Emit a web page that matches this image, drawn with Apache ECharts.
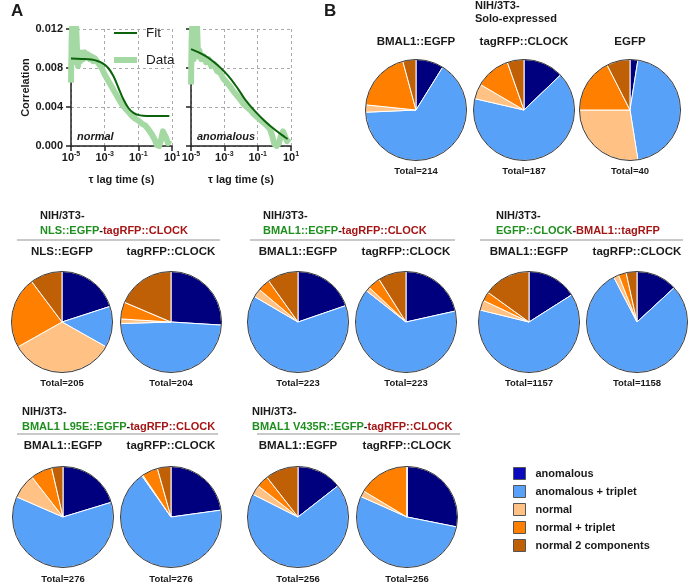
<!DOCTYPE html>
<html><head><meta charset="utf-8">
<script src="https://cdn.jsdelivr.net/npm/echarts@6/dist/echarts.min.js"></script>
<style>html,body{margin:0;padding:0;background:#fff}#c{width:688px;height:582px}</style>
</head><body><div id="c"></div>
<script>
// ---------- Panel A data ----------
const xTickExponents = [-5, -3, -1, 1];           // tick labels 10^e
const yTickLabels = ['0.000', '0.004', '0.008', '0.012'];

const normalFitExp = [-5, -4.38, -3.78, -3.39, -3.09, -2.79, -2.49, -2.19, -1.89, -1.59, -1.29, -0.89, -0.40, 0.20, 0.84];
const normalFitVal = [0.00897, 0.00893, 0.00886, 0.00869, 0.00845, 0.00800, 0.00720, 0.00600, 0.00480, 0.00390, 0.00340, 0.00314, 0.00308, 0.00307, 0.00307];
const normalDataExp = [-5.0, -4.96, -4.92, -4.86, -4.82, -4.76, -4.70, -4.64, -4.58, -4.52, -4.44, -4.38, -4.28, -4.18, -4.08, -3.98, -3.88, -3.78, -3.68, -3.58, -3.43, -3.29, -3.15, -2.99, -2.79, -2.59, -2.39, -2.19, -1.99, -1.79, -1.59, -1.39, -1.19, -0.99, -0.79, -0.59, -0.40, -0.20, -0.04, 0.10, 0.24, 0.36, 0.46, 0.56, 0.66, 0.76, 0.86];
const normalDataVal = [0.0065, 0.0110, 0.0125, 0.0086, 0.0125, 0.0092, 0.0125, 0.0098, 0.0082, 0.0094, 0.0087, 0.0096, 0.0089, 0.0096, 0.0091, 0.0094, 0.0089, 0.0092, 0.0087, 0.0090, 0.0086, 0.0083, 0.0079, 0.0073, 0.0067, 0.0061, 0.0055, 0.0049, 0.0043, 0.0039, 0.0035, 0.0031, 0.0028, 0.0026, 0.0023, 0.0021, 0.0017, 0.0012, 0.0007, 0.0001, 0.0000, 0.0007, 0.0015, 0.0013, 0.0008, 0.0003, 0.0006];

const anomFitExp = [-5, -4.14, -3.35, -2.75, -2.15, -1.75, -1.15, -0.55, 0.04, 0.64, 0.80];
const anomFitVal = [0.00993, 0.00924, 0.00821, 0.00717, 0.00579, 0.00476, 0.00355, 0.00252, 0.00166, 0.00090, 0.00072];
const anomDataExp = [-5.0, -4.96, -4.92, -4.84, -4.78, -4.72, -4.64, -4.58, -4.50, -4.38, -4.24, -4.10, -3.94, -3.78, -3.62, -3.44, -3.25, -3.05, -2.85, -2.65, -2.45, -2.25, -2.05, -1.85, -1.65, -1.45, -1.25, -1.05, -0.85, -0.65, -0.45, -0.25, -0.12, 0.00, 0.14, 0.28, 0.40, 0.52, 0.64, 0.76, 0.88];
const anomDataVal = [0.0063, 0.0110, 0.0125, 0.0089, 0.0125, 0.0096, 0.0125, 0.0092, 0.0098, 0.0089, 0.0092, 0.0086, 0.0089, 0.0082, 0.0084, 0.0077, 0.0075, 0.0069, 0.0065, 0.0061, 0.0056, 0.0052, 0.0048, 0.0043, 0.0040, 0.0037, 0.0033, 0.0030, 0.0027, 0.0024, 0.0021, 0.0017, 0.0010, 0.0002, 0.0000, 0.0003, 0.0011, 0.0015, 0.0010, 0.0005, 0.0008];

// ---------- Panel B data (counts per category) ----------
const categories = ['anomalous', 'anomalous + triplet', 'normal', 'normal + triplet', 'normal 2 components'];
const soloBMAL1EGFP = [19, 140, 5, 41, 9];
const soloTagRFPCLOCK = [24, 123, 9, 21, 10];
const soloEGFP = [1, 18, 11, 7, 3];
const nlsNLSEGFP = [41, 27, 69, 47, 21];
const nlsTagRFPCLOCK = [53, 99, 3, 11, 38];
const coBMAL1EGFP = [44, 142, 6, 9, 22];
const coTagRFPCLOCK = [48, 143, 3, 9, 20];
const clkBMAL1EGFP = [185, 727, 37, 34, 174];
const clkTagRFPCLOCK = [152, 918, 19, 29, 40];
const l95eBMAL1EGFP = [56, 169, 22, 19, 10];
const l95eTagRFPCLOCK = [63, 186, 1, 14, 12];
const v435rBMAL1EGFP = [37, 174, 8, 10, 27];
const v435rTagRFPCLOCK = [72, 137, 5, 42, 0];

// ---------- styles / layout ----------
const FONT = '"Liberation Sans", Arial, sans-serif';
const sliceColors = ['#00007f', '#58a1f9', '#ffc284', '#ff8000', '#bf6006'];
const legendColors = ['#0b0bbd', '#58a1f9', '#ffc284', '#ff8000', '#bf6006'];
const GREEN = '#1f8f1f', RED = '#a51515', INK = '#1a1a1a';
const R = 50.5;

const pieLayout = [
  { vals: soloBMAL1EGFP, c: [416, 110], title: 'BMAL1::EGFP', ty: 42, tot: 171 },
  { vals: soloTagRFPCLOCK, c: [524, 110], title: 'tagRFP::CLOCK', ty: 42, tot: 171 },
  { vals: soloEGFP, c: [630, 110], title: 'EGFP', ty: 42, tot: 171 },
  { vals: nlsNLSEGFP, c: [62, 322], title: 'NLS::EGFP', ty: 252, tot: 383 },
  { vals: nlsTagRFPCLOCK, c: [171, 322], title: 'tagRFP::CLOCK', ty: 252, tot: 383 },
  { vals: coBMAL1EGFP, c: [298, 322], title: 'BMAL1::EGFP', ty: 252, tot: 383 },
  { vals: coTagRFPCLOCK, c: [406, 322], title: 'tagRFP::CLOCK', ty: 252, tot: 383 },
  { vals: clkBMAL1EGFP, c: [529, 322], title: 'BMAL1::EGFP', ty: 252, tot: 383 },
  { vals: clkTagRFPCLOCK, c: [637, 322], title: 'tagRFP::CLOCK', ty: 252, tot: 383 },
  { vals: l95eBMAL1EGFP, c: [63, 517], title: 'BMAL1::EGFP', ty: 446, tot: 579 },
  { vals: l95eTagRFPCLOCK, c: [171, 517], title: 'tagRFP::CLOCK', ty: 446, tot: 579 },
  { vals: v435rBMAL1EGFP, c: [298, 517], title: 'BMAL1::EGFP', ty: 446, tot: 579 },
  { vals: v435rTagRFPCLOCK, c: [407, 517], title: 'tagRFP::CLOCK', ty: 446, tot: 579 }
];

const headers = [
  { left: 40, top: 208, g: 'NLS::EGFP', r: 'tagRFP::CLOCK' },
  { left: 263, top: 208, g: 'BMAL1::EGFP', r: 'tagRFP::CLOCK' },
  { left: 496, top: 208, g: 'EGFP::CLOCK', r: 'BMAL1::tagRFP' },
  { left: 22, top: 404, g: 'BMAL1 L95E::EGFP', r: 'tagRFP::CLOCK' },
  { left: 252, top: 404, g: 'BMAL1 V435R::EGFP', r: 'tagRFP::CLOCK' }
];
const separators = [[17, 220, 240], [250, 455, 240], [480, 683, 240], [17, 218, 434], [257, 460, 434]];

// ---------- build ----------
const toPts = (xs, ys) => xs.map((e, i) => [(e - xTickExponents[0]) / (xTickExponents[1] - xTickExponents[0]), ys[i]]);

function xAxisCfg(gi) {
  return {
    gridIndex: gi, type: 'value', min: 0, max: 3, interval: 1,
    name: 'τ lag time (s)', nameLocation: 'middle', nameGap: 28,
    nameTextStyle: { fontFamily: FONT, fontSize: 11, fontWeight: 'bold', color: INK },
    axisLine: { show: true, onZero: false, lineStyle: { color: '#222', width: 1.5 } },
    axisTick: { show: true, length: 5, lineStyle: { color: '#222', width: 1.5 } },
    axisLabel: {
      margin: 5,
      formatter: (u) => '{b|10}{s|' + xTickExponents[Math.round(u)] + '}',
      rich: {
        b: { fontFamily: FONT, fontSize: 11, fontWeight: 'bold', color: INK, lineHeight: 14 },
        s: { fontFamily: FONT, fontSize: 7, fontWeight: 'bold', color: INK, verticalAlign: 'top', lineHeight: 8 }
      }
    },
    splitLine: { show: true, lineStyle: { color: '#aaaaaa', type: [3, 3], width: 1 } }
  };
}
function yAxisCfg(gi, labels) {
  return {
    gridIndex: gi, type: 'value', min: 0, max: 0.012, interval: 0.004,
    name: labels ? 'Correlation' : '', nameLocation: 'middle', nameGap: 40,
    nameTextStyle: { fontFamily: FONT, fontSize: 11, fontWeight: 'bold', color: INK },
    axisLine: { show: true, lineStyle: { color: '#222', width: 1.5 } },
    axisTick: { show: true, length: 5, lineStyle: { color: '#222', width: 1.5 } },
    axisLabel: {
      show: labels, margin: 8, fontFamily: FONT, fontSize: 11, fontWeight: 'bold', color: INK,
      formatter: (v, i) => yTickLabels[i]
    },
    splitLine: { show: true, lineStyle: { color: '#aaaaaa', type: [3, 3], width: 1 } }
  };
}

const series = [];
function lineSeries(gi, dataPts, fitPts) {
  series.push({
    name: 'Data', type: 'line', xAxisIndex: gi, yAxisIndex: gi, data: dataPts,
    symbol: 'none', silent: true, z: 2, clip: true,
    lineStyle: { color: '#a5d9a3', width: 6, join: 'round', cap: 'butt' },
    itemStyle: { color: '#a5d9a3' }
  });
  series.push({
    name: 'Fit', type: 'line', xAxisIndex: gi, yAxisIndex: gi, data: fitPts,
    symbol: 'none', silent: true, z: 3, smooth: 0.4, clip: true,
    lineStyle: { color: '#0c630c', width: 2 },
    itemStyle: { color: '#0c630c' }
  });
}
lineSeries(0, toPts(normalDataExp, normalDataVal), toPts(normalFitExp, normalFitVal));
lineSeries(1, toPts(anomDataExp, anomDataVal), toPts(anomFitExp, anomFitVal));

const graphics = [];
const txt = (x, y, text, size, align, extra) => graphics.push({
  type: 'text', silent: true, z: 10,
  style: Object.assign({ x, y, text, fill: INK, font: 'bold ' + size + 'px ' + FONT, textAlign: align, textVerticalAlign: 'middle', verticalAlign: 'middle' }, extra || {})
});

pieLayout.forEach((p, i) => {
  series.push({
    name: 'pie' + i, type: 'pie', center: p.c, radius: R, startAngle: 90, clockwise: true,
    silent: true, label: { show: false }, labelLine: { show: false }, emphasis: { disabled: true },
    itemStyle: { borderColor: '#ffffff', borderWidth: 1 },
    data: categories.map((n, k) => ({ name: n, value: p.vals[k], itemStyle: { color: sliceColors[k] } }))
  });
  series.push({
    name: 'outline' + i, type: 'pie', center: p.c, radius: R, silent: true,
    label: { show: false }, labelLine: { show: false }, emphasis: { disabled: true },
    data: [{ name: 'outline', value: 1, itemStyle: { color: 'rgba(0,0,0,0)', borderColor: '#3a3a3a', borderWidth: 1 } }]
  });
  txt(p.c[0], p.ty, p.title, 11.5, 'center');
  txt(p.c[0], p.tot, 'Total=' + p.vals.reduce((a, b) => a + b, 0), 9.5, 'center');
});

txt(11, 11, 'A', 17, 'left');
txt(324, 11, 'B', 17, 'left');
txt(475, 6, 'NIH/3T3-', 11, 'left');
txt(475, 19, 'Solo-expressed', 11, 'left');
txt(77, 137, 'normal', 11, 'left', { font: 'italic bold 11px ' + FONT });
txt(197, 137, 'anomalous', 11, 'left', { font: 'italic bold 11px ' + FONT });

separators.forEach(s => graphics.push({
  type: 'line', silent: true, shape: { x1: s[0], y1: s[2], x2: s[1], y2: s[2] },
  style: { stroke: '#c9c9c9', lineWidth: 2 }
}));

const richHdr = {
  k: { fontFamily: FONT, fontSize: 11, fontWeight: 'bold', color: INK, lineHeight: 15 },
  g: { fontFamily: FONT, fontSize: 11, fontWeight: 'bold', color: GREEN, lineHeight: 15 },
  r: { fontFamily: FONT, fontSize: 11, fontWeight: 'bold', color: RED, lineHeight: 15 }
};
const titles = headers.map(h => ({
  left: h.left, top: h.top, padding: 0,
  text: '{k|NIH/3T3-}\n{g|' + h.g + '}{k|-}{r|' + h.r + '}',
  textStyle: { fontFamily: FONT, fontSize: 11, fontWeight: 'bold', lineHeight: 15, rich: richHdr }
}));

const option = {
  animation: false,
  backgroundColor: '#ffffff',
  textStyle: { fontFamily: FONT },
  title: titles,
  grid: [
    { left: 71, top: 29, width: 101, height: 117 },
    { left: 191, top: 29, width: 100, height: 117 }
  ],
  xAxis: [xAxisCfg(0), xAxisCfg(1)],
  yAxis: [yAxisCfg(0, true), yAxisCfg(1, false)],
  legend: [
    {
      data: ['Fit', 'Data'], orient: 'vertical', left: 111, top: 26, padding: 0,
      itemWidth: 23, itemHeight: 14, itemGap: 13, selectedMode: false,
      itemStyle: { color: 'rgba(0,0,0,0)', borderColor: 'rgba(0,0,0,0)', borderWidth: 0, opacity: 0 },
      lineStyle: { width: 'inherit' },
      textStyle: { fontFamily: FONT, fontSize: 13.5, color: INK, padding: [0, 0, 0, 4] }
    },
    {
      data: categories.map((n, k) => ({ name: n, icon: 'rect', itemStyle: { color: legendColors[k], borderColor: '#555', borderWidth: 1 } })),
      orient: 'vertical', left: 513, top: 467, padding: 0,
      itemWidth: 12, itemHeight: 12, itemGap: 5, selectedMode: false,
      textStyle: { fontFamily: FONT, fontSize: 11, fontWeight: 'bold', color: INK, padding: [0, 0, 0, 5] }
    }
  ],
  graphic: graphics,
  series: series
};

const chart = echarts.init(document.getElementById('c'), null, { renderer: 'canvas' });
chart.setOption(option);
</script>
</body></html>
